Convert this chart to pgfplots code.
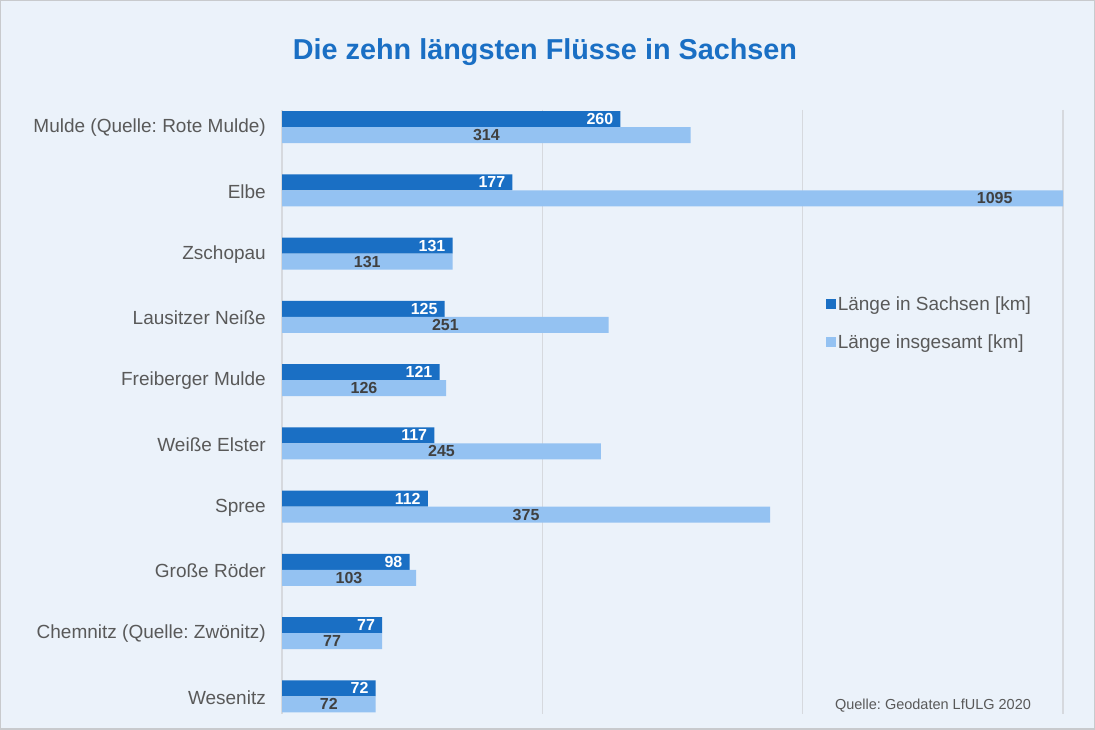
\documentclass[border=0pt]{standalone}
\usepackage{fontspec}
\setmainfont{Liberation Sans}
\usepackage{pgfplots}
\usepackage{pgfplotstable}
\pgfplotsset{compat=1.18}
\frenchspacing
\definecolor{dark}{HTML}{1A6FC4}
\definecolor{light}{HTML}{94C2F2}
\definecolor{bg}{HTML}{EBF2FA}
\definecolor{txt}{HTML}{595959}
\definecolor{lbl}{HTML}{404040}
\definecolor{gridc}{HTML}{D6D9DE}
\definecolor{border}{HTML}{C8CACD}
\pgfplotstableread{
y sachsen gesamt
0 260 314
1 177 1095
2 131 131
3 125 251
4 121 126
5 117 245
6 112 375
7 98 103
8 77 77
9 72 72
}\data
\begin{document}
\frenchspacing
\begin{tikzpicture}[x=1bp,y=1bp]
\fill[bg] (0,0) rectangle (1095,730);
\draw[border, line width=1.5bp] (0.75,0.75) rectangle (1094.25,729.25);
\node[font=\bfseries\fontsize{28.8bp}{34bp}\selectfont, text=dark] at (545,678) {Die zehn längsten Flüsse in Sachsen};
\node[font=\fontsize{14.5bp}{17bp}\selectfont, text=txt] at (933,24) {Quelle: Geodaten LfULG 2020};
\begin{axis}[
  at={(282bp,16bp)}, anchor=south west, scale only axis,
  width=781bp, height=604bp,
  xmin=0, xmax=600, ymin=-0.27, ymax=9.28, y dir=reverse,
  xbar, bar width=16bp,
  clip=false,
  xtick={0,200,400,600}, xticklabels={},
  xmajorgrids, major grid style={color=gridc, line width=1.3bp},
  axis line style={draw=none}, major tick length=0pt,
  ytick={0,...,9},
  yticklabels={Mulde (Quelle: Rote Mulde),Elbe,Zschopau,Lausitzer Neiße,Freiberger Mulde,Weiße Elster,Spree,Große Röder,Chemnitz (Quelle: Zwönitz),Wesenitz},
  yticklabel style={font=\fontsize{19bp}{22bp}\selectfont\frenchspacing, text=txt, inner sep=0pt, xshift=-16bp, yshift=-1bp},
  /pgf/number format/assume math mode=true,
  /pgf/number format/1000 sep={},
  legend style={draw=none, fill=none, at={(0.696,0.695)}, anchor=north west,
    font=\fontsize{19bp}{22bp}\selectfont, text=txt, row sep=19bp, inner sep=0pt},
  legend cell align=left,
  legend image code/.code={\fill[#1] (0bp,-5bp) rectangle (10bp,5bp);},
]
\addplot[fill=dark, draw=none, bar shift=8bp,
  nodes near coords, point meta=x,
  every node near coord/.style={anchor=east, inner sep=0pt, xshift=-7bp, yshift=8bp,
    font=\bfseries\fontsize{16bp}{19bp}\selectfont, text=white}]
  table[x=sachsen, y=y] {\data};
\addlegendentry{Länge in Sachsen [km]}
\addplot[fill=light, draw=none, bar shift=-8bp,
  x filter/.expression={min(x,600)},
  nodes near coords, point meta=\thisrow{gesamt},
  visualization depends on={\thisrow{gesamt} \as \xval},
  every node near coord/.style={anchor=center, inner sep=0pt,
    xshift={0.65328*\xval-1.30656*min(\xval,600)}, yshift=-8bp,
    font=\bfseries\fontsize{16bp}{19bp}\selectfont, text=lbl}]
  table[x=gesamt, y=y] {\data};
\addlegendentry{Länge insgesamt [km]}
\end{axis}
\pgfresetboundingbox
\path[use as bounding box] (0,0) rectangle (1095,730);
\end{tikzpicture}
\end{document}
